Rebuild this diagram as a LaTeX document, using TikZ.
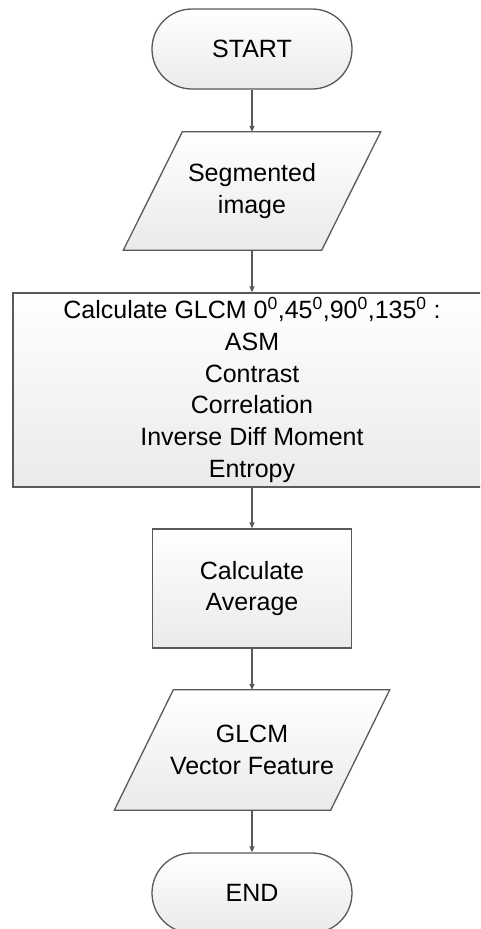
\documentclass[tikz,border=0pt]{standalone}
\usepackage{fontspec}
\setmainfont{Liberation Sans}
\usetikzlibrary{arrows.meta,calc}
\pgfdeclarelayer{bg}
\pgfsetlayers{bg,main}
\definecolor{edgegray}{HTML}{595959}
\definecolor{shadebot}{HTML}{EAEAEA}
\tikzset{
  base/.style={font=\fontsize{25}{31.7}\selectfont, align=center, text=black, inner sep=0pt},
  term/.style={base, draw=edgegray, line width=1.3pt, top color=white, bottom color=shadebot,
    minimum width=200pt, minimum height=80pt, rounded corners=39.9pt},
  proc/.style={base, draw=edgegray, line width=1.3pt, top color=white, bottom color=shadebot},
  io/.style={base},
  flow/.style={draw=edgegray, line width=1.3pt, -{Triangle[length=6pt,width=5pt]}},
}
\newcommand\ioshape[2]{%
  \begin{pgfonlayer}{bg}
    \shadedraw[draw=edgegray, line width=1.3pt, top color=white, bottom color=shadebot]
      ($(#1.south west)+(-#2,0)$) -- ($(#1.south east)+(-#2,0)$) --
      ($(#1.north east)+(#2,0)$) -- ($(#1.north west)+(#2,0)$) -- cycle;
  \end{pgfonlayer}}
\begin{document}
\begin{tikzpicture}[x=1pt,y=1pt]
  \useasboundingbox (0,0) rectangle (480,-929);
  \clip (0,0) rectangle (480,-929);
  \node[term] (start) at (252,-49) {START};
  \node[io, minimum width=198pt, minimum height=118pt] (seg) at (252,-191) {Segmented\\image};
  \ioshape{seg}{29.5}
  \node[proc, minimum width=478pt, minimum height=194pt] (glcm) at (252,-390)
    {Calculate GLCM 0\textsuperscript{0},45\textsuperscript{0},90\textsuperscript{0},135\textsuperscript{0} :\\ASM\\Contrast\\Correlation\\Inverse Diff Moment\\Entropy};
  \node[proc, minimum width=199pt, minimum height=119pt] (avg) at (252,-588.5) {Calculate\\Average};
  \node[io, minimum width=216pt, minimum height=120pt] (vec) at (252,-750) {GLCM\\Vector Feature};
  \ioshape{vec}{29.5}
  \node[term] (end) at (252,-893) {END};
  \draw[flow] (start) -- (seg);
  \draw[flow] (seg) -- (glcm);
  \draw[flow] (glcm) -- (avg);
  \draw[flow] (avg) -- (vec);
  \draw[flow] (vec) -- (end);
\end{tikzpicture}
\end{document}
